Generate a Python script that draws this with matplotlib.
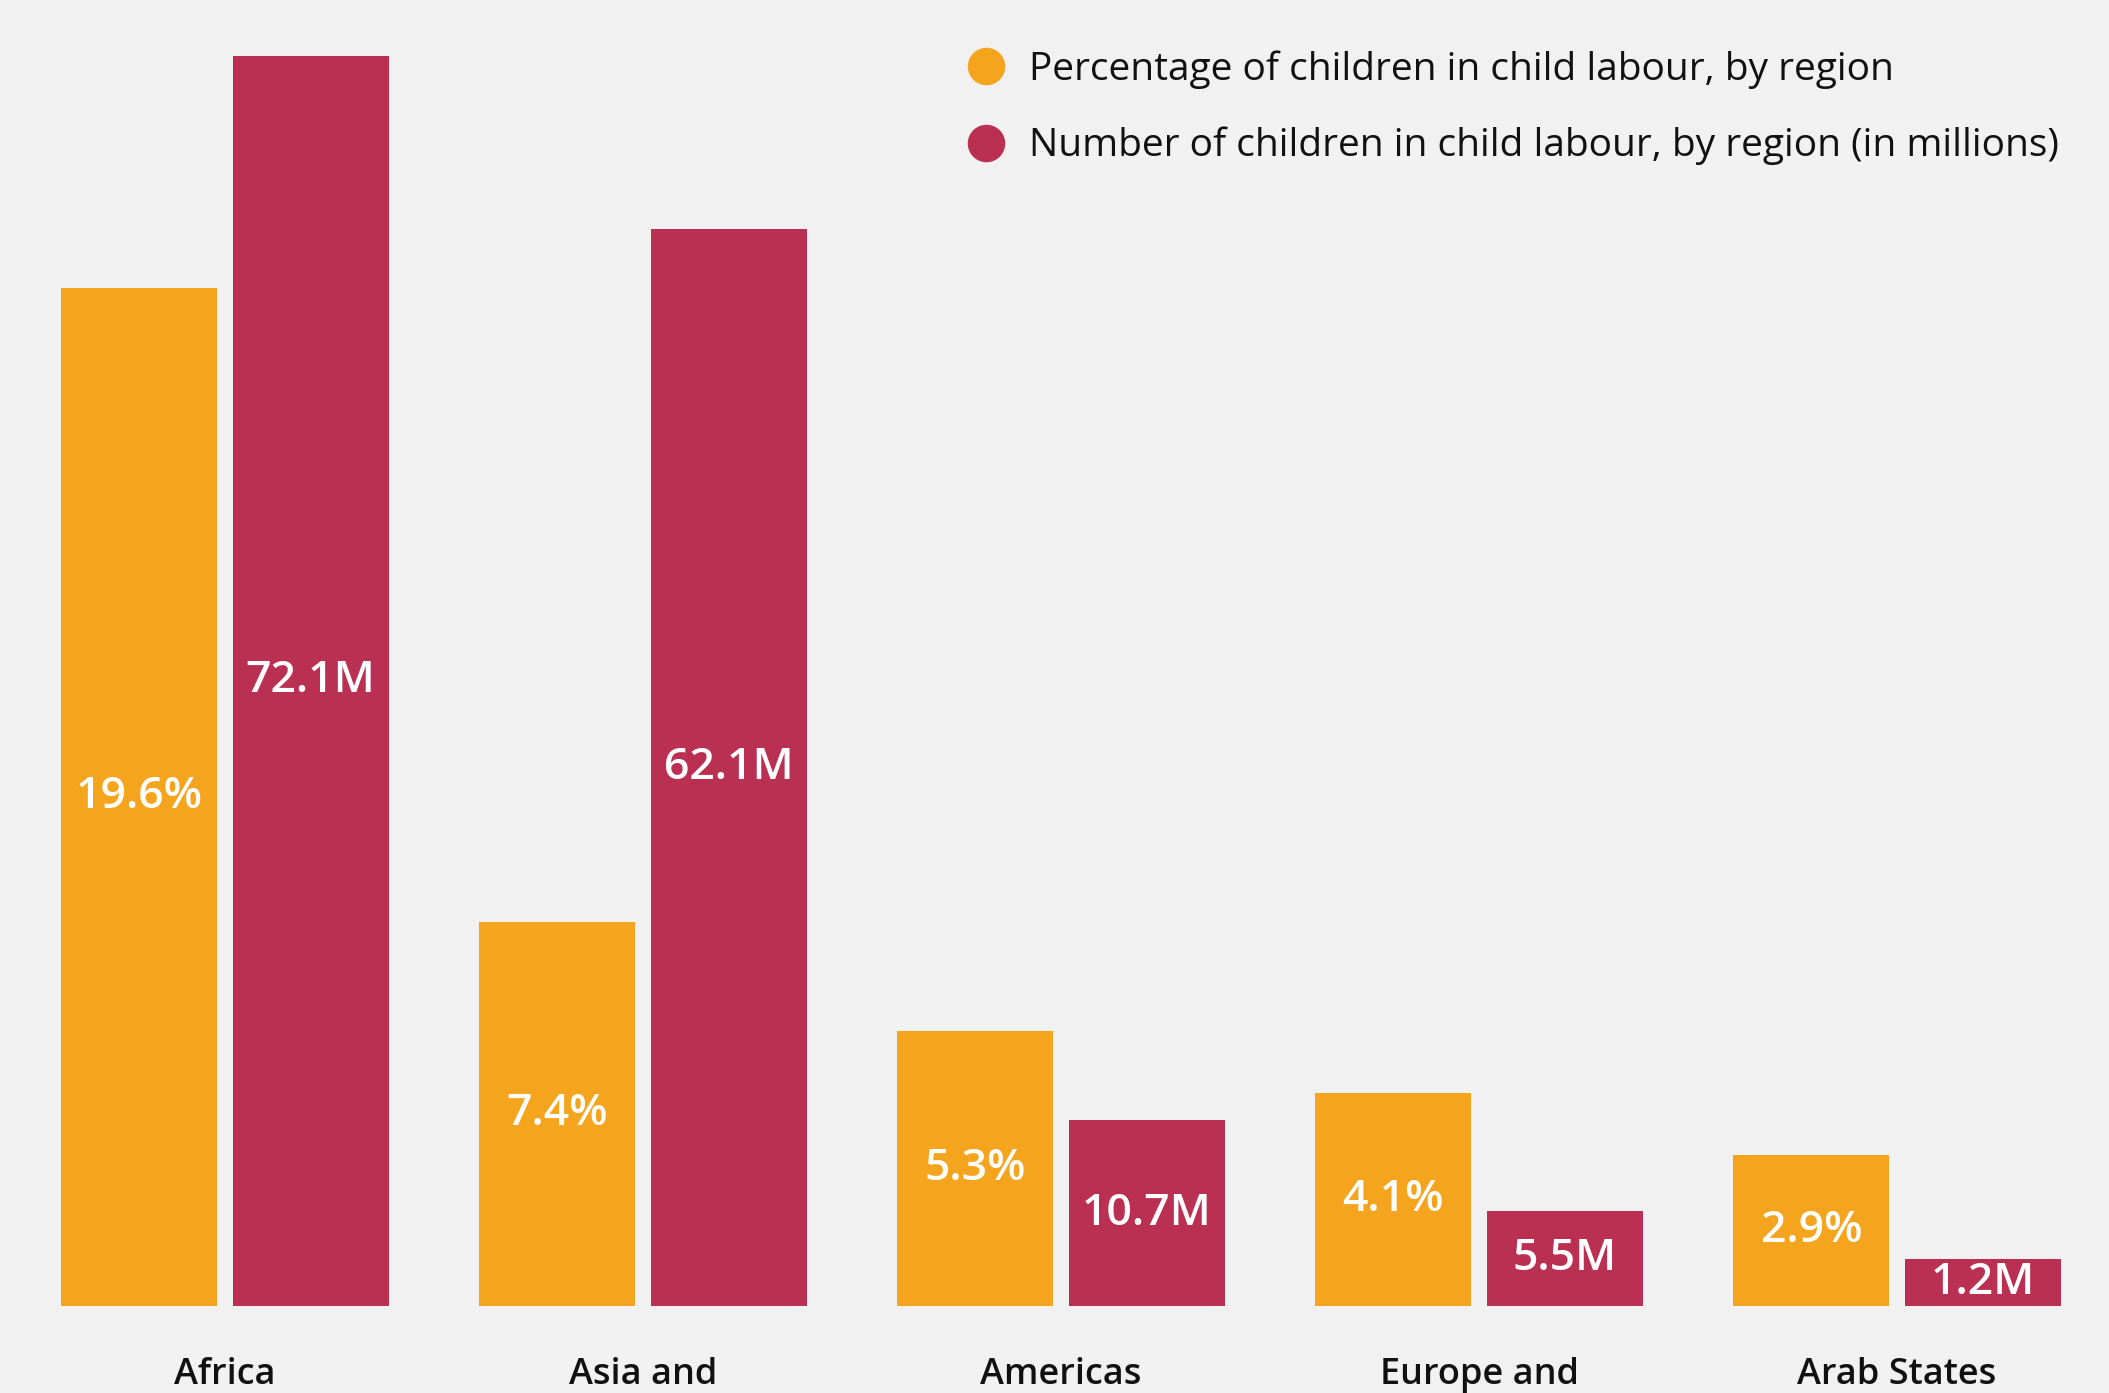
import numpy as np
import matplotlib
matplotlib.use("Agg")
import matplotlib.pyplot as plt
from matplotlib.lines import Line2D
import matplotlib.transforms as mtransforms

# only the first line of the two-line region names is inside the frame
regions = ["Africa", "Asia and", "Americas", "Europe and", "Arab States"]
pct_values = [19.6, 7.4, 5.3, 4.1, 2.9]
num_values = [72.1, 62.1, 10.7, 5.5, 1.2]
pct_labels = ["19.6%", "7.4%", "5.3%", "4.1%", "2.9%"]
num_labels = ["72.1M", "62.1M", "10.7M", "5.5M", "1.2M"]

ORANGE = "#F5A51D"
RED = "#BA3052"
BG = "#F1F1F1"
# smallest height shown for a bar so its value label still fits inside
MIN_NUM = 2.7

plt.rcParams["font.family"] = ["Open Sans", "DejaVu Sans"]

fig = plt.figure(figsize=(21.09, 13.93), dpi=100)
fig.patch.set_facecolor(BG)
ax = fig.add_axes([0, 0, 1, 1])
ax2 = ax.twinx()
for a in (ax, ax2):
    a.set_facecolor("none")
    a.axis("off")

x = np.arange(len(regions))
width = 0.373
offset = 0.205

ax.bar(x - offset, pct_values, width, color=ORANGE)
num_shown = np.maximum(num_values, MIN_NUM)
ax2.bar(x + offset, num_shown, width, color=RED)

ax.set_xlim(-0.538, 4.507)
ax.set_ylim(-1.675, 25.14)
ax2.set_ylim(-5.02, 75.33)

for i in range(len(regions)):
    ax.text(x[i] - offset, pct_values[i] / 2, pct_labels[i], color="white",
            fontsize=32, fontweight="semibold", ha="center", va="center")
    ax2.text(x[i] + offset, num_shown[i] / 2, num_labels[i], color="white",
             fontsize=32, fontweight="semibold", ha="center", va="center")

trans = mtransforms.blended_transform_factory(ax.transData, ax.transAxes)
for i, r in enumerate(regions):
    ax.text(x[i], 0.0258, r, transform=trans, ha="center", va="top",
            fontsize=26, fontweight="semibold", color="#111111")

handles = [
    Line2D([], [], marker="o", linestyle="none", markersize=26, color=ORANGE),
    Line2D([], [], marker="o", linestyle="none", markersize=26, color=RED),
]
leg_labels = ["Percentage of children in child labour, by region",
              "Number of children in child labour, by region (in millions)"]
fig.legend(handles, leg_labels, loc="upper left", bbox_to_anchor=(0.4566, 0.964),
           frameon=False, fontsize=28, handletextpad=0.5, labelspacing=0.98,
           borderpad=0, borderaxespad=0, handlelength=1.2, labelcolor="#111111")

fig.savefig("out.png", dpi=100, facecolor=BG)
